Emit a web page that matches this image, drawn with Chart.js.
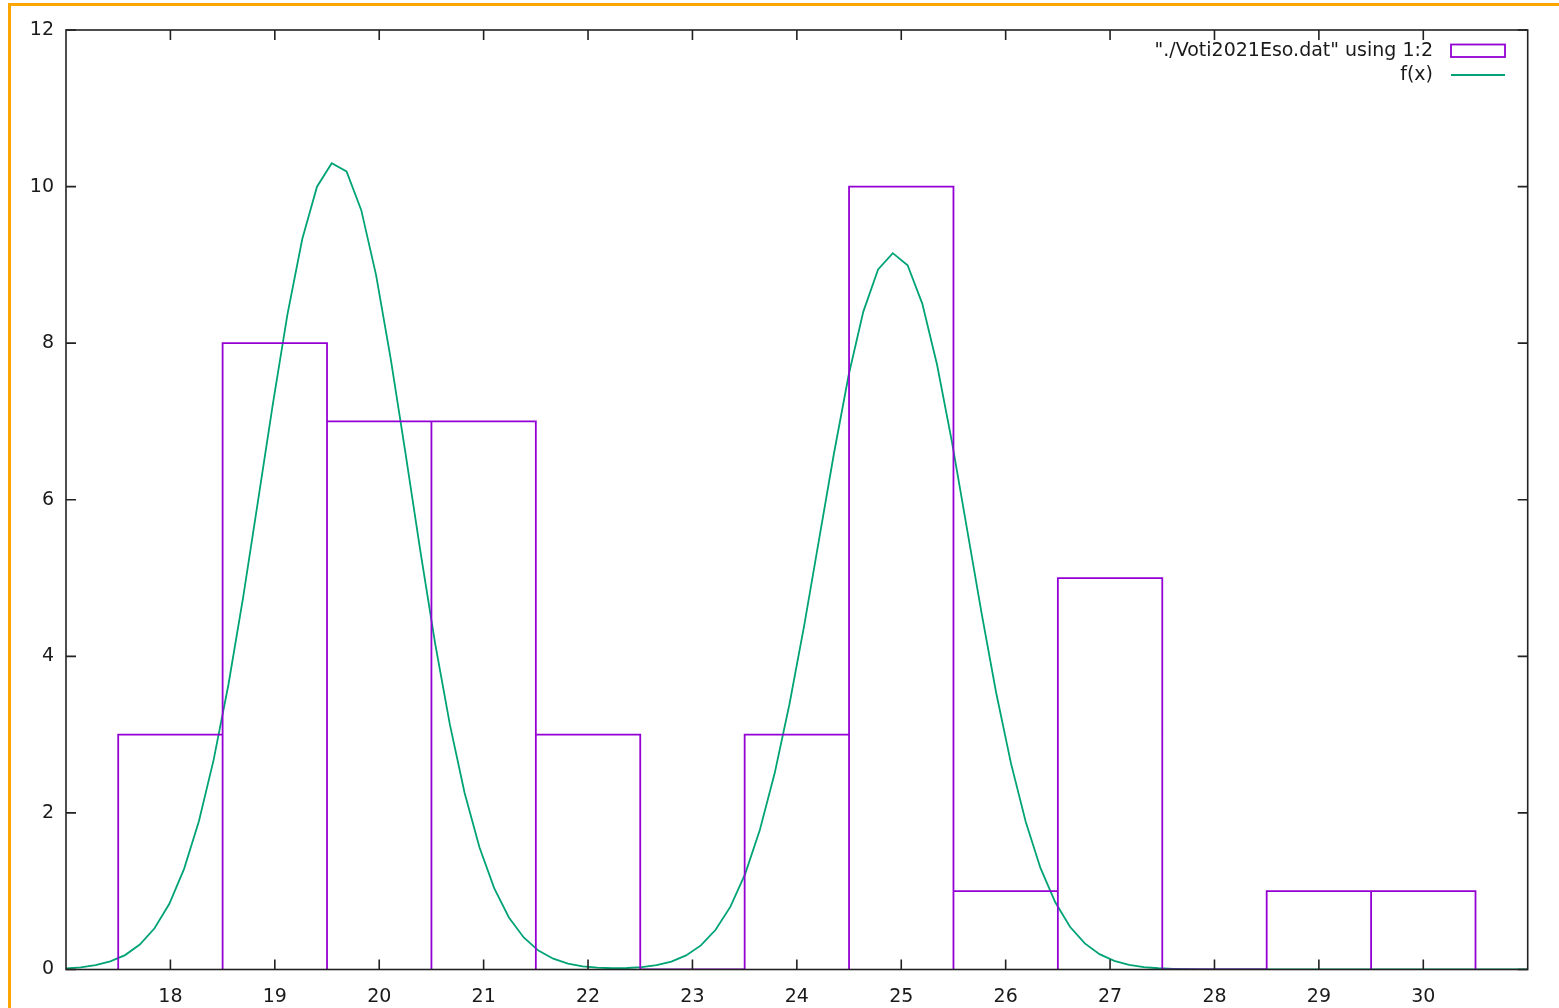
<!DOCTYPE html>
<html>
<head>
<meta charset="utf-8">
<script src="https://cdn.jsdelivr.net/npm/chart.js@4.4.1/dist/chart.umd.min.js"></script>
<style>
  html, body { margin: 0; padding: 0; background: #fff; overflow: hidden; }
  #wrap { position: relative; width: 1559px; height: 1008px; }
  #frame { position: absolute; left: 8px; top: 3px; right: 0; bottom: 0;
           border-left: 3px solid #ffa500; border-top: 3px solid #ffa500; pointer-events: none; }
</style>
</head>
<body>
<div id="wrap">
  <canvas id="myChart" width="1559" height="1008"></canvas>
  <div id="frame"></div>
</div>
<script>
// histogram bins (center of each box, width 1) and counts
const binCenters = [18, 19, 20, 21, 22, 23, 24, 25, 26, 27, 28, 29, 30];
const binCounts  = [3, 8, 7, 7, 3, 0, 3, 10, 1, 5, 0, 1, 1];

// fitted curve f(x) at gnuplot's 100 sample positions
const fitX = [17.000, 17.141, 17.283, 17.424, 17.566, 17.707, 17.848, 17.990, 18.131, 18.273,
              18.414, 18.556, 18.697, 18.838, 18.980, 19.121, 19.263, 19.404, 19.545, 19.687,
              19.828, 19.970, 20.111, 20.253, 20.394, 20.535, 20.677, 20.818, 20.960, 21.101,
              21.242, 21.384, 21.525, 21.667, 21.808, 21.949, 22.091, 22.232, 22.374, 22.515,
              22.657, 22.798, 22.939, 23.081, 23.222, 23.364, 23.505, 23.646, 23.788, 23.929,
              24.071, 24.212, 24.354, 24.495, 24.636, 24.778, 24.919, 25.061, 25.202, 25.343,
              25.485, 25.626, 25.768, 25.909, 26.051, 26.192, 26.333, 26.475, 26.616, 26.758,
              26.899, 27.040, 27.182, 27.323, 27.465, 27.606, 27.747, 27.889, 28.030, 28.172,
              28.313, 28.455, 28.596, 28.737, 28.879, 29.020, 29.162, 29.303, 29.444, 29.586,
              29.727, 29.869, 30.010, 30.152, 30.293, 30.434, 30.576, 30.717, 30.859, 31.000];
const fitY = [0.014, 0.028, 0.055, 0.103, 0.184, 0.318, 0.527, 0.840, 1.286, 1.893,
              2.678, 3.640, 4.757, 5.975, 7.213, 8.368, 9.330, 9.999, 10.298, 10.194,
              9.699, 8.869, 7.793, 6.583, 5.345, 4.169, 3.127, 2.254, 1.561, 1.039,
              0.665, 0.409, 0.242, 0.138, 0.076, 0.041, 0.023, 0.016, 0.019, 0.030,
              0.055, 0.101, 0.180, 0.308, 0.507, 0.803, 1.221, 1.785, 2.509, 3.388,
              4.399, 5.488, 6.581, 7.584, 8.400, 8.942, 9.150, 8.996, 8.502, 7.724,
              6.743, 5.657, 4.562, 3.535, 2.633, 1.886, 1.297, 0.858, 0.545, 0.333,
              0.196, 0.110, 0.060, 0.031, 0.016, 0.008, 0.004, 0.002, 0.001, 0,
              0, 0, 0, 0, 0, 0, 0, 0, 0, 0,
              0, 0, 0, 0, 0, 0, 0, 0, 0, 0];

const xTicks = [18, 19, 20, 21, 22, 23, 24, 25, 26, 27, 28, 29, 30];
const yTicks = [0, 2, 4, 6, 8, 10, 12];

const legendLabels = ['"./Voti2021Eso.dat" using 1:2', 'f(x)'];

const boxColor = '#9400d3';
const fitColor = '#00a376';
const axisColor = '#222';
const textColor = '#1a1a1a';
const FONT_SIZE = 19;

// outline of the boxes, one open path per box (no bottom edge)
const boxPoints = [];
binCenters.forEach((c, i) => {
    boxPoints.push({ x: c - 0.5, y: 0 });
    boxPoints.push({ x: c - 0.5, y: binCounts[i] });
    boxPoints.push({ x: c + 0.5, y: binCounts[i] });
    boxPoints.push({ x: c + 0.5, y: 0 });
    boxPoints.push({ x: c + 0.5, y: null });
});
const fitPoints = fitX.map((x, i) => ({ x: x, y: fitY[i] }));

// gnuplot-like frame, inward ticks on all sides, and key
const gnuplotLook = {
    id: 'gnuplotLook',
    afterDatasetsDraw(chart) {
        const { ctx, chartArea: a, scales: { x, y } } = chart;
        ctx.save();
        ctx.strokeStyle = axisColor;
        ctx.lineWidth = 1.6;
        ctx.strokeRect(a.left, a.top, a.right - a.left, a.bottom - a.top);
        ctx.beginPath();
        xTicks.forEach((v) => {
            const px = x.getPixelForValue(v);
            ctx.moveTo(px, a.bottom); ctx.lineTo(px, a.bottom - 10);
            ctx.moveTo(px, a.top); ctx.lineTo(px, a.top + 10);
        });
        yTicks.forEach((v) => {
            const py = y.getPixelForValue(v);
            ctx.moveTo(a.left, py); ctx.lineTo(a.left + 10, py);
            ctx.moveTo(a.right, py); ctx.lineTo(a.right - 10, py);
        });
        ctx.stroke();

        // key, top right
        ctx.font = FONT_SIZE + 'px "DejaVu Sans"';
        ctx.fillStyle = textColor;
        ctx.textAlign = 'right';
        ctx.textBaseline = 'middle';
        ctx.fillText(legendLabels[0], 1433, 51);
        ctx.fillText(legendLabels[1], 1433, 75);
        ctx.lineWidth = 1.8;
        ctx.strokeStyle = boxColor;
        ctx.strokeRect(1451, 44.5, 54, 12.5);
        ctx.strokeStyle = fitColor;
        ctx.beginPath();
        ctx.moveTo(1451, 75); ctx.lineTo(1505, 75);
        ctx.stroke();
        ctx.restore();
    }
};

const data = {
    datasets: [
        {
            label: legendLabels[0],
            data: boxPoints,
            showLine: true,
            spanGaps: false,
            borderColor: boxColor,
            borderWidth: 1.8,
            pointRadius: 0,
            tension: 0,
        },
        {
            label: legendLabels[1],
            data: fitPoints,
            showLine: true,
            borderColor: fitColor,
            borderWidth: 1.8,
            pointRadius: 0,
            tension: 0,
        },
    ],
};

const tickFont = { family: 'DejaVu Sans', size: FONT_SIZE };

const config = {
    type: 'scatter',
    data: data,
    plugins: [gnuplotLook],
    options: {
        responsive: false,
        animation: false,
        devicePixelRatio: 1,
        layout: { padding: { top: 30, right: 31.3, left: 0, bottom: 0 } },
        plugins: { legend: { display: false }, tooltip: { enabled: false } },
        scales: {
            x: {
                type: 'linear',
                min: 17,
                max: 31,
                afterBuildTicks: (s) => { s.ticks = xTicks.map((v) => ({ value: v })); },
                afterFit: (s) => { s.height = 38.5; },
                grid: { display: false, drawTicks: false },
                border: { display: false },
                ticks: { padding: 16, color: textColor, font: tickFont, maxRotation: 0 },
            },
            y: {
                type: 'linear',
                min: 0,
                max: 12,
                afterBuildTicks: (s) => { s.ticks = yTicks.map((v) => ({ value: v })); },
                afterFit: (s) => { s.width = 66; },
                grid: { display: false, drawTicks: false },
                border: { display: false },
                ticks: { padding: 12, color: textColor, font: tickFont },
            },
        },
    },
};

new Chart(document.getElementById('myChart'), config);
</script>
</body>
</html>
